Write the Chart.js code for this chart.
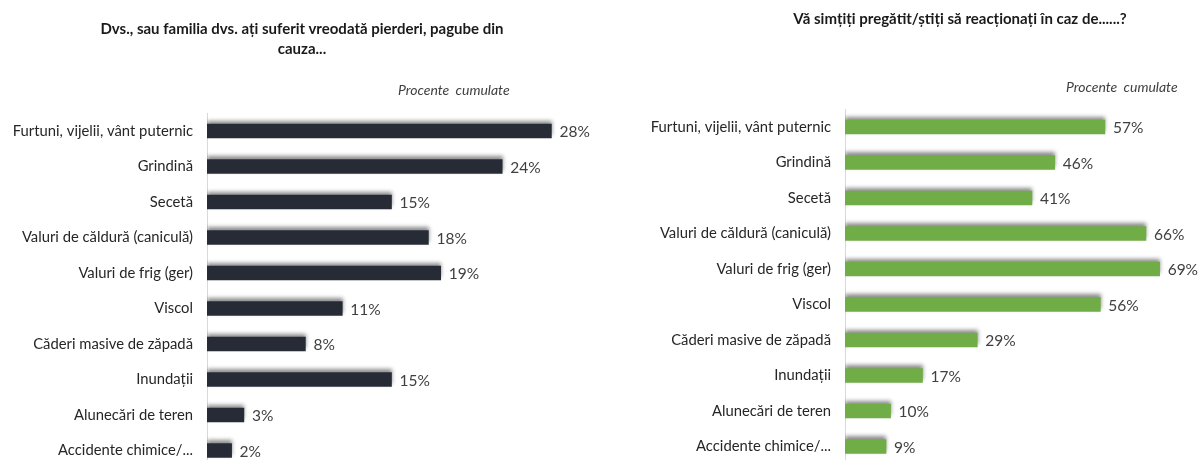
<!DOCTYPE html>
<html><head><meta charset="utf-8">
<script src="https://cdn.jsdelivr.net/npm/chart.js@4/dist/chart.umd.min.js"></script>
<style>
html,body{margin:0;padding:0;width:1200px;height:460px;overflow:hidden;background:#fff;font-family:Lato,sans-serif}
.panel{position:absolute;top:0;width:600px;height:480px}
.title{position:absolute;font-weight:bold;font-size:15px;color:#1a1a1a;text-align:center;line-height:20px;white-space:nowrap}
.note{position:absolute;font-style:italic;font-size:14px;color:#404040;white-space:nowrap;word-spacing:3px}
</style></head><body>
<div class="panel" style="left:0"><canvas id="c1" width="600" height="480"></canvas></div>
<div class="panel" style="left:600px"><canvas id="c2" width="600" height="480"></canvas></div>
<div class="title" style="left:40px;top:18px;width:524px">Dvs., sau familia dvs. ați suferit vreodată pierderi, pagube din<br>cauza...</div>
<div class="title" style="left:740px;top:8px;width:440px">Vă simțiți pregătit/știți să reacționați în caz de......?</div>
<div class="note" style="left:398px;top:81px">Procente cumulate</div>
<div class="note" style="left:1066px;top:78px">Procente cumulate</div>
<script>
const categories = ["Furtuni, vijelii, vânt puternic","Grindină","Secetă","Valuri de căldură (caniculă)","Valuri de frig (ger)","Viscol","Căderi masive de zăpadă","Inundații","Alunecări de teren","Accidente chimice/..."];
const lossValues = [28,24,15,18,19,11,8,15,3,2];
const preparedValues = [57,46,41,66,69,56,29,17,10,9];

const shadowPlugin = {
  id:'barShadow',
  beforeDatasetsDraw(chart){
    const ctx = chart.ctx; ctx.save();
    ctx.shadowColor='rgba(0,0,0,0.45)'; ctx.shadowBlur=4; ctx.shadowOffsetX=0; ctx.shadowOffsetY=-3;
  },
  afterDatasetsDraw(chart){
    chart.ctx.restore();
    const ctx = chart.ctx;
    const meta = chart.getDatasetMeta(0);
    const data = chart.data.datasets[0].data;
    ctx.save();
    ctx.font = '15.5px Lato, sans-serif';
    ctx.fillStyle = '#404040';
    ctx.textAlign='left'; ctx.textBaseline='middle';
    meta.data.forEach((el,i)=>{ ctx.fillText(data[i]+'%', el.x+8, el.y+1); });
    ctx.restore();
  }
};

function makeChart(id, values, color, yWidth, maxX, pad){
  return new Chart(document.getElementById(id), {
    type:'bar',
    data:{labels:categories, datasets:[{data:values, backgroundColor:color, borderWidth:0, barThickness:14}]},
    options:{
      indexAxis:'y', responsive:false, animation:false,
      layout:{padding:pad},
      plugins:{legend:{display:false}, tooltip:{enabled:false}},
      scales:{
        x:{display:false, min:0, max:maxX},
        y:{
          grid:{display:false, drawTicks:false},
          border:{display:true, color:'#d9d9d9', width:1},
          ticks:{padding:14, color:'#262626', font:{family:'Lato', size:14.8}},
          afterFit(s){ s.width = yWidth; s.paddingTop = 0; s.paddingBottom = 0; }
        }
      }
    },
    plugins:[shadowPlugin]
  });
}
makeChart('c1', lossValues, '#262b36', 207, 30, {top:113.25,right:24,bottom:11.75,left:0});
makeChart('c2', preparedValues, '#70ad47', 245, 75, {top:109.25,right:13,bottom:15.75,left:0});
</script>
</body></html>
